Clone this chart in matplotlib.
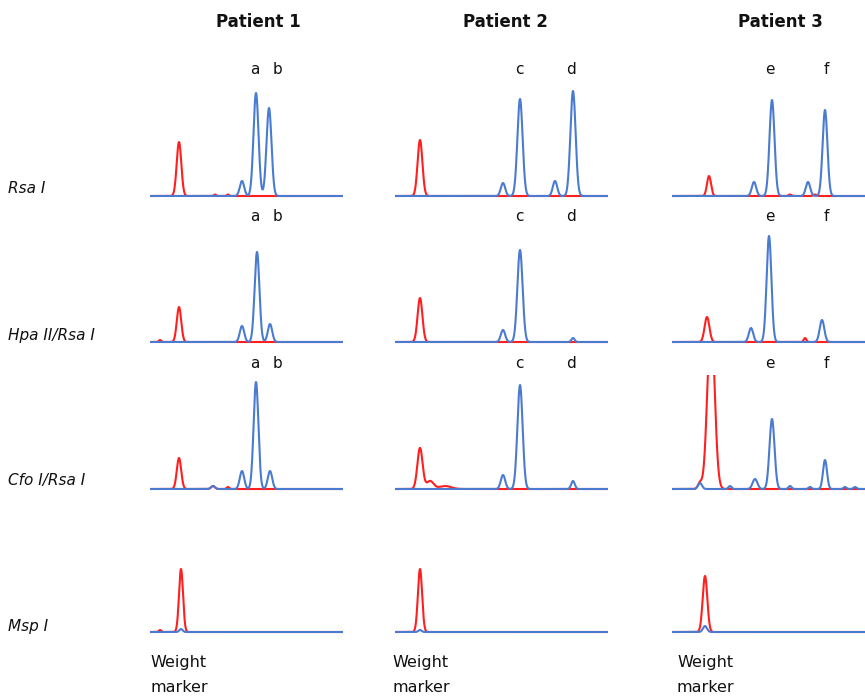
import matplotlib
matplotlib.use('Agg')
import numpy as np
import matplotlib.pyplot as plt

W, H = 865, 697
BLUE = '#4a7bd0'
RED = '#ff1f1f'

patients = ['Patient 1', 'Patient 2', 'Patient 3']
enzymes = ['Rsa I', 'Hpa II/Rsa I', 'Cfo I/Rsa I', 'Msp I']
peak_names = [('a', 'b'), ('c', 'd'), ('e', 'f')]

# peaks as (position, height, width) -- one list per patient
rsa_red = [[(179, 54, 2.3), (215, 1.5, 1.0), (228, 1.5, 1.0)],
           [(420, 56, 2.4)],
           [(709, 20, 2.0), (790, 1.5, 1.5), (815, 1.5, 1.5)]]
rsa_blue = [[(242, 15, 2.2), (256, 103, 2.5), (269, 88, 2.5)],
            [(503, 13, 2.2), (520, 97, 2.6), (555, 15, 2.2), (573, 105, 2.6)],
            [(754, 14, 2.2), (772, 96, 2.5), (808, 14, 2.2), (825, 86, 2.4)]]

hpa_red = [[(160, 2, 1.2), (179, 35, 2.2)],
           [(420, 44, 2.4)],
           [(707, 25, 2.4), (805, 4, 1.3)]]
hpa_blue = [[(242, 16, 2.2), (257, 90, 2.4), (270, 18, 2.2)],
            [(503, 12, 2.2), (520, 92, 2.6), (573, 4, 1.6)],
            [(751, 14, 2.2), (769, 106, 2.4), (822, 22, 2.3)]]

cfo_red = [[(179, 31, 2.2), (213, 3, 1.8), (228, 2, 1.3)],
           [(420, 41, 2.6), (430, 8, 3.5), (445, 3, 6.0)],
           [(711, 170, 3.6), (700, 6, 2.0)]]
cfo_blue = [[(213, 3, 2.0), (242, 18, 2.2), (256, 107, 2.4), (270, 18, 2.2)],
            [(503, 14, 2.2), (520, 104, 2.6), (573, 8, 1.8)],
            [(700, 6, 2.0), (730, 3, 1.5), (755, 10, 2.4), (772, 70, 2.5),
             (790, 3, 1.5), (810, 2, 1.5), (825, 29, 2.0), (845, 2, 1.5),
             (855, 2, 1.5)]]

msp_red = [[(160, 2, 1.2), (181, 63, 2.0)],
           [(420, 63, 2.1)],
           [(705, 56, 2.3)]]
msp_blue = [[(181, 3, 1.6)],
            [(420, 2, 1.6)],
            [(705, 6, 2.0)]]

red_rows = [rsa_red, hpa_red, cfo_red, msp_red]
blue_rows = [rsa_blue, hpa_blue, cfo_blue, msp_blue]

col_x = [(150, 343), (395, 608), (672, 866)]
row_base = [196, 342, 489, 632]
label_row_y = [69, 217, 364]
peak_label_x = [(255, 277), (519, 571), (770, 826)]
title_x = [258, 505, 780]
marker_x = [150, 392, 677]
panel_h = 114

fig = plt.figure(figsize=(W / 100, H / 100), dpi=100)


def trace(x, peaks):
    y = np.zeros_like(x)
    for pos, h, s in peaks:
        y += h * np.exp(-0.5 * ((x - pos) / s) ** 2)
    return y


for r in range(4):
    yb = row_base[r]
    for c in range(3):
        x0, x1 = col_x[c]
        ax = fig.add_axes([x0 / W, 1 - (yb + 3) / H, (x1 - x0) / W, (panel_h + 3) / H])
        ax.set_xlim(x0, x1)
        ax.set_ylim(-3, panel_h)
        ax.axis('off')
        x = np.linspace(x0, x1, 1500)
        ax.plot(x, trace(x, red_rows[r][c]), color=RED, lw=1.5)
        ax.plot(x, trace(x, blue_rows[r][c]), color=BLUE, lw=1.5)

for c in range(3):
    fig.text(title_x[c] / W, 1 - 22 / H, patients[c], ha='center', va='center',
             fontsize=12, fontweight='bold', color='#111111')
    for r in range(3):
        for k in range(2):
            fig.text(peak_label_x[c][k] / W, 1 - label_row_y[r] / H, peak_names[c][k],
                     ha='center', va='center', fontsize=11, color='#111111')
    fig.text(marker_x[c] / W, 1 - 663 / H, 'Weight', ha='left', va='center',
             fontsize=11.5, color='#111111')
    fig.text(marker_x[c] / W, 1 - 688 / H, 'marker', ha='left', va='center',
             fontsize=11.5, color='#111111')

label_y = [188, 335, 481, 627]
for r in range(4):
    fig.text(8 / W, 1 - label_y[r] / H, enzymes[r], ha='left', va='center',
             fontsize=11, style='italic', color='#111111')

plt.savefig('out.png', dpi=100)
